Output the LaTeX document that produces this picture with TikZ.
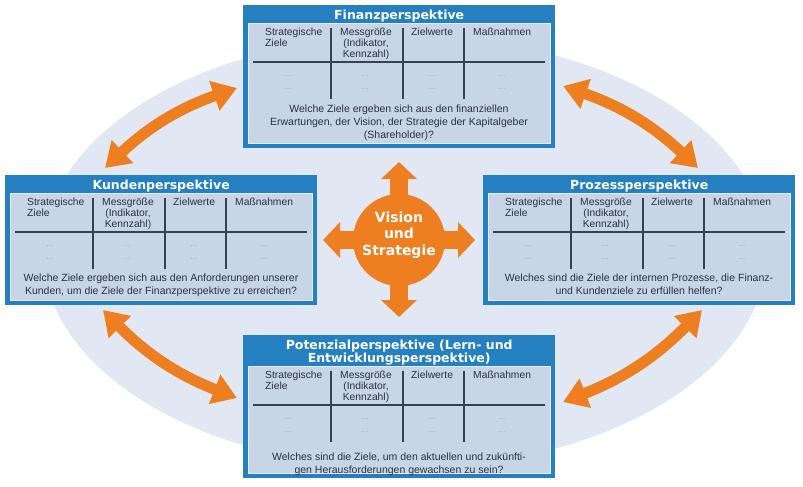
\documentclass[tikz,border=0pt]{standalone}
\usepackage{fontspec}
\setmainfont{Liberation Sans}
\newfontfamily\widefont{DejaVu Sans}
\usetikzlibrary{arrows.meta, positioning}
\definecolor{bsblue}{RGB}{36,128,193}
\definecolor{bspanel}{RGB}{199,213,230}
\definecolor{bsbg}{RGB}{226,232,243}
\definecolor{bsorange}{RGB}{238,127,32}
\definecolor{bstext}{RGB}{45,50,60}
\definecolor{bsline}{RGB}{55,65,80}
\tikzstyle{persp} = [rectangle, fill=bsblue, minimum width=312pt, inner sep=0pt, anchor=north west]
\tikzstyle{ptitle} = [text=white, font=\widefont\bfseries\fontsize{12.5}{13}\selectfont, align=center, inner sep=0pt]
\tikzstyle{panel} = [fill=bspanel, draw=white!55!bspanel, line width=0.8pt]
\tikzstyle{tabrule} = [draw=bsline, line width=1.1pt]
\tikzstyle{colhead} = [text=bstext, font=\fontsize{10.3}{11}\selectfont, align=left, inner sep=0pt]
\tikzstyle{dotcell} = [text=gray!60!bspanel, font=\fontsize{8}{8}\selectfont, inner sep=0pt]
\tikzstyle{question} = [text=bstext, font=\fontsize{10.5}{13}\selectfont, align=center, inner sep=0pt, anchor=north]
\tikzstyle{linkarrow} = [draw=bsorange, line width=11pt, {Triangle[length=24pt,width=30pt]}-{Triangle[length=24pt,width=30pt]}]
\tikzstyle{centerarrow} = [draw=bsorange, line width=18pt, -{Triangle[length=17pt,width=35pt]}]
\tikzstyle{vision} = [circle, fill=bsorange, minimum size=92pt, inner sep=0pt]
\tikzstyle{visiontext} = [text=white, font=\widefont\bfseries\fontsize{14}{16.5}\selectfont, align=center, inner sep=0pt]

% table inside a perspective box: node, title offset, question, question top
\newcommand{\bsctable}[4]{%
  \path[panel] ([xshift=5pt,yshift={-18pt-#2pt}]#1.north west) rectangle ([xshift=-5pt,yshift=5pt]#1.south east);
  \begin{scope}[shift={(#1.north west)}, yshift=-#2pt]
    \draw[tabrule] (10,57) -- (302,57);
    \foreach \cx in {88,160,221} \draw[tabrule] (\cx,23) -- (\cx,94);
    \node[colhead, anchor=north west] (#1-goal) at (22,23) {Strategische\\Ziele};
    \node[colhead, anchor=north, align=center] (#1-measure) at (123,23) {Messgröße\\(Indikator,\\Kennzahl)};
    \node[colhead, anchor=north west] (#1-target) at (168,23) {Zielwerte};
    \node[colhead, anchor=north west] (#1-action) at (230,23) {Maßnahmen};
    \foreach \dx in {45,122,189,259} \foreach \dy in {71,84}
      \node[dotcell] (#1-dot-\dx-\dy) at (\dx,\dy) {...};
    \node[question] (#1-question) at (156,#4) {#3};
  \end{scope}}

\begin{document}
\begin{tikzpicture}[x=1pt, y=-1pt]
  \useasboundingbox[fill=white] (0,0) rectangle (803,487);
  % background
  \fill[bsbg] (405,252) ellipse [x radius=362pt, y radius=216pt];

  % links between the perspectives
  \coordinate (kfA) at (105,168); \coordinate (kfB) at (237,88);
  \coordinate (fpA) at (563,86);  \coordinate (fpB) at (698,168);
  \coordinate (kpA) at (103,310); \coordinate (kpB) at (237,398);
  \coordinate (ppA) at (563,402); \coordinate (ppB) at (702,310);
  \draw[linkarrow] (kfA) to[bend left=12] (kfB);
  \draw[linkarrow] (fpA) to[bend left=12] (fpB);
  \draw[linkarrow] (kpA) to[bend right=12] (kpB);
  \draw[linkarrow] (ppA) to[bend right=12] (ppB);

  % perspectives
  \node[persp, minimum height=143pt] (fin) at (243,5) {};
  \node[persp, minimum height=130pt] (kun) at (5,175) {};
  \node[persp, minimum height=130pt] (pro) at (483,175) {};
  \node[persp, minimum height=143pt] (pot) at (243,335) {};
  \node[ptitle, below=5pt of fin.north] (fin-title) {Finanzperspektive};
  \node[ptitle, below=5pt of kun.north] (kun-title) {Kundenperspektive};
  \node[ptitle, below=5pt of pro.north] (pro-title) {Prozessperspektive};
  \node[ptitle, below=5pt of pot.north] (pot-title) {Potenzialperspektive (Lern- und\\Entwicklungsperspektive)};
  \bsctable{fin}{0}{Welche Ziele ergeben sich aus den finanziellen\\Erwartungen, der Vision, der Strategie der Kapitalgeber\\(Shareholder)?}{99.5}
  \bsctable{kun}{0}{Welche Ziele ergeben sich aus den Anforderungen unserer\\Kunden, um die Ziele der Finanzperspektive zu erreichen?}{98.5}
  \bsctable{pro}{0}{Welches sind die Ziele der internen Prozesse, die Finanz-\\und Kundenziele zu erfüllen helfen?}{98.5}
  \bsctable{pot}{13}{Welches sind die Ziele, um den aktuellen und zukünfti-\\gen Herausforderungen gewachsen zu sein?}{104.5}

  % vision and strategy
  \coordinate (vc) at (399,240);
  \coordinate (vN) at (399,162); \coordinate (vS) at (399,317);
  \coordinate (vW) at (323,240); \coordinate (vE) at (475,240);
  \foreach \tip in {vN,vS,vW,vE} \draw[centerarrow] (vc) -- (\tip);
  \node[vision] (vis) at (vc) {};
  \node[visiontext] (vis-text) at ([yshift=5pt]vis.center) {Vision\\und\\Strategie};
\end{tikzpicture}
\end{document}
